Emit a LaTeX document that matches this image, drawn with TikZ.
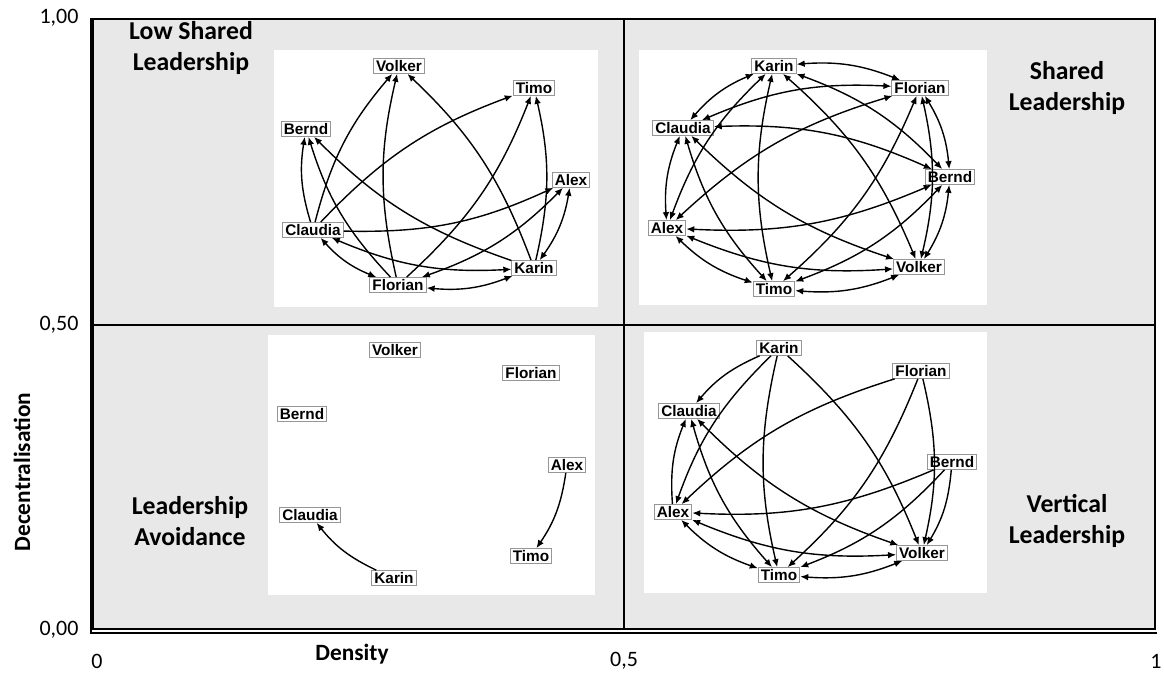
\documentclass[tikz,border=0pt]{standalone}
\usepackage{fontspec}
\setmainfont{Carlito}
\newfontfamily\netfont{Liberation Sans}
\usetikzlibrary{arrows.meta}
\definecolor{panelbg}{RGB}{232,232,232}
\definecolor{boxline}{RGB}{150,150,150}
\begin{document}
\begin{tikzpicture}[x=0.75pt,y=0.75pt,
  nn/.style={draw=boxline,line width=0.6pt,fill=white,inner xsep=2pt,inner ysep=1.5pt,
    font=\netfont\bfseries\fontsize{11.5}{11.5}\selectfont,text height=8pt,text depth=0.2pt},
  ed/.style={line width=1.05pt,bend left=13,>={Latex[length=6pt,width=5pt]}},
  quad/.style={align=center,font=\bfseries\fontsize{19.3}{23}\selectfont},
  axlab/.style={font=\bfseries\fontsize{17.5}{17.5}\selectfont},
  tick/.style={font=\fontsize{16.5}{16.5}\selectfont}]
\useasboundingbox (0,0) rectangle (1164,-673);

% plot area and quadrants
\fill[panelbg] (93,-19) rectangle (1155,-629);
\fill[white] (274,-50) rectangle (598,-307);
\fill[white] (639,-50) rectangle (987,-305);
\fill[white] (268,-335) rectangle (595,-595);
\fill[white] (644,-332) rectangle (987,-593);
\draw[line width=1.6pt] (624,-19) -- (624,-629);
\draw[line width=1.6pt] (93,-325) -- (1155,-325);
\draw[line width=2.2pt] (93,-19) rectangle (1155,-629);
\draw[line width=1.2pt] (91,-18) -- (91,-633) -- (1157,-633);

% axis ticks and titles
\node[tick] (y100) at (59,-18) {1,00};
\node[tick] (y050) at (59,-325) {0,50};
\node[tick] (y000) at (59,-630) {0,00};
\node[tick] (x0) at (97,-661) {0};
\node[tick] (x05) at (624,-661) {0,5};
\node[tick] (x1) at (1156,-661) {1};
\node[axlab] (xt) at (352,-654) {Density};
\node[axlab,rotate=90] (yt) at (22,-472) {Decentralisation};

% quadrant titles
\node[quad] (t1) at (191,-48) {Low Shared\\Leadership};
\node[quad] (t2) at (1067,-88) {Shared\\Leadership};
\node[quad] (t3) at (190,-521) {Leadership\\Avoidance};
\node[quad] (t4) at (1067,-521) {Vertical\\Leadership};

% low shared leadership network
\node[nn] (q1V) at (399,-66) {Volker};
\node[nn] (q1T) at (534,-88) {Timo};
\node[nn] (q1B) at (306,-129) {Bernd};
\node[nn] (q1A) at (571,-180) {Alex};
\node[nn] (q1C) at (313,-230) {Claudia};
\node[nn] (q1K) at (534,-268) {Karin};
\node[nn] (q1F) at (398,-285) {Florian};
\draw[ed,->] (q1C) to (q1V);
\draw[ed,->] (q1F) to (q1V);
\draw[ed,<-] (q1V) to (q1K);
\draw[ed,->] (q1C) to (q1T);
\draw[ed,<-] (q1T) to (q1F);
\draw[ed,<-] (q1T) to (q1K);
\draw[ed,<-] (q1A) to (q1C);
\draw[ed,<->] (q1A) to (q1F);
\draw[ed,<->] (q1A) to (q1K);
\draw[ed,->] (q1C) to (q1B);
\draw[ed,->] (q1F) to (q1B);
\draw[ed,->] (q1K) to (q1B);
\draw[ed,<->] (q1F) to (q1C);
\draw[ed,<->] (q1K) to (q1C);
\draw[ed,<->] (q1K) to (q1F);

% shared leadership network
\node[nn] (q2K) at (774,-66) {Karin};
\node[nn] (q2F) at (920,-88) {Florian};
\node[nn] (q2C) at (683,-128) {Claudia};
\node[nn] (q2B) at (950,-177) {Bernd};
\node[nn] (q2A) at (667,-228) {Alex};
\node[nn] (q2V) at (919,-267) {Volker};
\node[nn] (q2T) at (774,-289) {Timo};
\draw[ed,<->] (q2F) to (q2B);
\draw[ed,<->] (q2K) to (q2B);
\draw[ed,<->] (q2C) to (q2B);
\draw[ed,<->] (q2B) to (q2A);
\draw[ed,<->] (q2B) to (q2T);
\draw[ed,<->] (q2B) to (q2V);
\draw[ed,<->] (q2K) to (q2F);
\draw[ed,<->] (q2C) to (q2F);
\draw[ed,<->] (q2A) to (q2F);
\draw[ed,<->] (q2F) to (q2T);
\draw[ed,<->] (q2F) to (q2V);
\draw[ed,<->] (q2C) to (q2K);
\draw[ed,<->] (q2A) to (q2K);
\draw[ed,<->] (q2T) to (q2K);
\draw[ed,<->] (q2K) to (q2V);
\draw[ed,<->] (q2A) to (q2C);
\draw[ed,<->] (q2T) to (q2C);
\draw[ed,<->] (q2V) to (q2C);
\draw[ed,<->] (q2T) to (q2A);
\draw[ed,<->] (q2V) to (q2A);
\draw[ed,<->] (q2V) to (q2T);

% leadership avoidance network
\node[nn] (q3V) at (395,-350) {Volker};
\node[nn] (q3F) at (531,-373) {Florian};
\node[nn] (q3B) at (302,-414) {Bernd};
\node[nn] (q3A) at (567,-465) {Alex};
\node[nn] (q3C) at (310,-515) {Claudia};
\node[nn] (q3T) at (531,-556) {Timo};
\node[nn] (q3K) at (394,-578) {Karin};
\draw[ed,->] (q3A) to (q3T);
\draw[ed,->] (q3K) to (q3C);

% vertical leadership network
\node[nn] (q4K) at (779,-348) {Karin};
\node[nn] (q4F) at (921,-371) {Florian};
\node[nn] (q4C) at (689,-411) {Claudia};
\node[nn] (q4B) at (952,-462) {Bernd};
\node[nn] (q4A) at (673,-512) {Alex};
\node[nn] (q4V) at (922,-553) {Volker};
\node[nn] (q4T) at (779,-575) {Timo};
\draw[ed,<-] (q4C) to (q4K);
\draw[ed,<-] (q4A) to (q4K);
\draw[ed,<-] (q4T) to (q4K);
\draw[ed,->] (q4K) to (q4V);
\draw[ed,<-] (q4A) to (q4F);
\draw[ed,->] (q4F) to (q4T);
\draw[ed,->] (q4F) to (q4V);
\draw[ed,->] (q4A) to (q4C);
\draw[ed,<->] (q4T) to (q4C);
\draw[ed,<->] (q4V) to (q4C);
\draw[ed,->] (q4B) to (q4A);
\draw[ed,->] (q4B) to (q4T);
\draw[ed,->] (q4B) to (q4V);
\draw[ed,<->] (q4V) to (q4A);
\draw[ed,<->] (q4T) to (q4A);
\draw[ed,<->] (q4V) to (q4T);
\end{tikzpicture}
\end{document}
